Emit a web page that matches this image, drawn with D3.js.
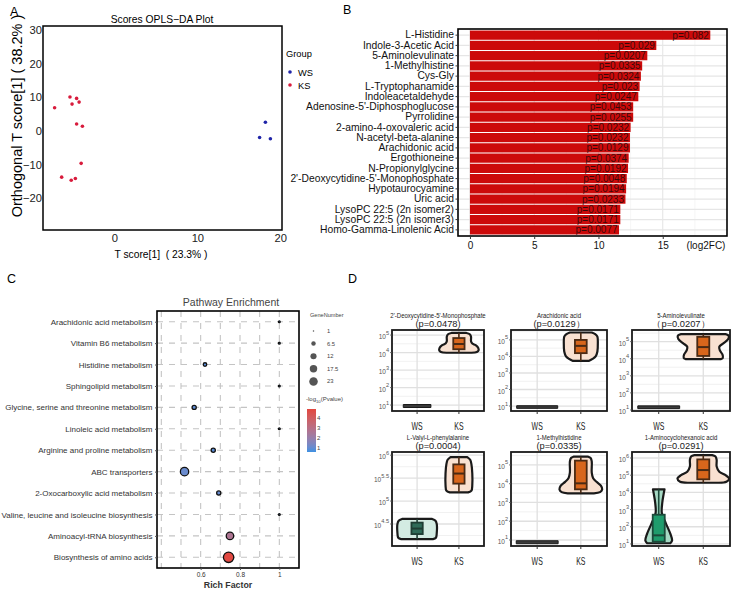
<!DOCTYPE html>
<html lang="en">
<head>
<meta charset="utf-8">
<title>Metabolomics figure</title>
<script src="https://d3js.org/d3.v7.min.js"></script>
<style>
  body { margin: 0; background: #fff; }
  svg text { font-family: "Liberation Sans", Arial, sans-serif; }
</style>
</head>
<body>
<script>
// ---------------- data ----------------
// A: OPLS-DA scores  [T score, orthogonal T score]
var ksScores = [[-7.2,6.9],[-5.35,10.1],[-4.55,9.7],[-5.1,8.0],[-4.25,8.6],[-4.55,2.1],
                [-3.85,1.4],[-4.0,-9.6],[-6.35,-13.7],[-5.2,-14.6],[-4.7,-14.1]];
var wsScores = [[18.2,2.6],[17.5,-1.9],[18.8,-2.3]];
var scoreXTicks = [0, 10, 20];
var scoreYTicks = [-20, -10, 0, 10, 20, 30];

// B: fold change bars
var metabolites = ["L-Histidine","Indole-3-Acetic Acid","5-Aminolevulinate","1-Methylhistine","Cys-Gly",
  "L-Tryptophanamide","Indoleacetaldehyde","Adenosine-5'-Diphosphoglucose","Pyrrolidine",
  "2-amino-4-oxovaleric acid","N-acetyl-beta-alanine","Arachidonic acid","Ergothioneine",
  "N-Propionylglycine","2'-Deoxycytidine-5'-Monophosphate","Hypotaurocyamine","Uric acid",
  "LysoPC 22:5 (2n isomer2)","LysoPC 22:5 (2n isomer3)","Homo-Gamma-Linolenic Acid"];
var log2FC = [18.7,14.5,13.8,13.4,13.3,13.2,13.1,12.7,12.7,12.5,12.45,12.45,12.35,12.3,12.2,12.15,12.1,11.7,11.7,11.6];
var pLabels = ["p=0.082","p=0.029","p=0.0207","p=0.0335","p=0.0324","p=0.023","p=0.0247","p=0.0453",
  "p=0.0255","p=0.0232","p=0.0232","p=0.0129","p=0.0374","p=0.0192","p=0.0048","p=0.0194",
  "p=0.0233","p=0.0171","p=0.0171","p=0.0077"];
var fcTicks = [0, 5, 10, 15];

// C: pathway enrichment
var pathways = ["Arachidonic acid metabolism","Vitamin B6 metabolism","Histidine metabolism",
  "Sphingolipid metabolism","Glycine, serine and threonine metabolism","Linoleic acid metabolism",
  "Arginine and proline metabolism","ABC transporters","2-Oxocarboxylic acid metabolism",
  "Valine, leucine and isoleucine biosynthesis","Aminoacyl-tRNA biosynthesis","Biosynthesis of amino acids"];
var richFactor = [1, 1, 0.622, 1, 0.567, 1, 0.664, 0.518, 0.692, 1, 0.749, 0.742];
var geneNumber = [1, 1, 3, 1, 4, 1, 4, 15, 4, 1, 12, 23];
var negLogP = [0.6, 0.6, 0.8, 0.6, 0.9, 0.6, 0.85, 1.05, 1.0, 0.7, 2.6, 4.8];
var geneLegend = [1, 6.5, 12, 17.5, 23];
var pLegend = [1, 2, 3, 4];
var richTicks = [0.6, 0.8, 1];

// D: violin / box plots (values are log10 intensity)
var groups = ["WS", "KS"];
var dNames = ["2'-Deoxycytidine-5'-Monophosphate","Arachidonic acid","5-Aminolevulinate",
  "L-Valyl-L-phenylalanine","1-Methylhistidine","1-Aminocyclohexanoic acid"];
var dPvals = ["(p=0.0478)","(p=0.0129\uff09","\uff08p=0.0207\uff09","(p=0.0004)","(p=0.0335)","(p=0.0291)"];
var dTicks = [[1,2,3,4,5],[1,2,3,4,5],[1,2,3,4,5],[4.5,5,5.5,6],[1,2,3,4,5],[1,2,3,4,5,6]];
var dLimits = [[0.66,5.29],[0.7,5.6],[0.94,5.68],[4.02,6.07],[0.68,5.69],[0.88,6.35]];
// box stats [min, q1, median, q3, max]
var wsBox = [[0.9,0.92,0.95,0.98,1.0],[0.9,0.92,0.94,0.97,0.99],[1.1,1.13,1.16,1.19,1.22],
             [4.17,4.28,4.4,4.53,4.61],[0.84,0.86,0.88,0.91,0.93],[1.04,1.13,1.5,2.7,4.18]];
var ksBox = [[3.99,4.19,4.49,4.83,5.12],[3.73,4.2,4.64,5.0,5.45],[3.98,4.16,4.68,5.28,5.44],
             [5.19,5.38,5.6,5.8,5.96],[3.49,3.7,4.02,5.23,5.44],[4.56,4.76,5.3,5.92,6.17]];
// violin outlines [value, half width]
var wsViolins = [
  [[0.86,0.33],[1.03,0.33]],
  [[0.86,0.47],[1.02,0.47]],
  [[1.08,0.47],[1.24,0.47]],
  [[4.17,0.38],[4.2,0.45],[4.3,0.47],[4.5,0.47],[4.57,0.44],[4.61,0.36]],
  [[0.8,0.48],[0.96,0.48]],
  [[1.04,0.26],[1.2,0.3],[1.6,0.26],[2.2,0.16],[2.8,0.07],[3.4,0.08],[3.9,0.11],[4.18,0.13]]
];
var ksViolins = [
  [[3.99,0.3],[4.03,0.43],[4.12,0.47],[4.28,0.46],[4.42,0.4],[4.52,0.32],[4.65,0.29],[4.9,0.29],[5.05,0.26],[5.12,0.18]],
  [[3.73,0.18],[3.85,0.27],[4.0,0.34],[4.3,0.38],[4.8,0.39],[5.2,0.38],[5.35,0.33],[5.45,0.25]],
  [[3.98,0.4],[4.05,0.44],[4.25,0.43],[4.5,0.37],[4.7,0.36],[4.9,0.45],[5.15,0.56],[5.35,0.57],[5.44,0.5]],
  [[5.19,0.22],[5.23,0.3],[5.35,0.32],[5.6,0.32],[5.8,0.3],[5.9,0.27],[5.96,0.2]],
  [[3.49,0.3],[3.55,0.44],[3.7,0.49],[3.9,0.46],[4.1,0.36],[4.3,0.28],[4.6,0.25],[5.2,0.25],[5.38,0.22],[5.44,0.17]],
  [[4.56,0.35],[4.62,0.52],[4.8,0.58],[5.0,0.5],[5.2,0.36],[5.5,0.3],[5.9,0.3],[6.1,0.27],[6.17,0.2]]
];

// ---------------- drawing ----------------
var svg = d3.select("body").append("svg").attr("width", 737).attr("height", 598);

// panel letters
[["A",10,16],["B",343,14],["C",7,283],["D",348,283]].forEach(function(l) {
  svg.append("text").text(l[0]).attr("x", l[1]).attr("y", l[2]).attr("font-size", 12.5);
});

// ===== Panel A =====
var ax = d3.scaleLinear().domain([-8.6, 20.2]).range([43, 282]);
var ay = d3.scaleLinear().domain([-29.4, 31.2]).range([230, 26]);
var gA = svg.append("g");

var axA = gA.append("g").attr("transform", "translate(0,230)")
  .call(d3.axisBottom(ax).tickValues(scoreXTicks).tickSize(0).tickPadding(4));
var ayA = gA.append("g").attr("transform", "translate(43,0)")
  .call(d3.axisLeft(ay).tickValues(scoreYTicks).tickSize(0).tickPadding(1));
[axA, ayA].forEach(function(a) {
  a.select(".domain").remove();
  a.selectAll("text").attr("font-size", 11.2).attr("fill", "#222").style("font-family", "'Liberation Sans', Arial");
});

gA.append("rect").attr("x", 43).attr("y", 26).attr("width", 239).attr("height", 204)
  .attr("fill", "none").attr("stroke", "#000").attr("stroke-width", 1.5);

gA.selectAll(".ks").data(ksScores).enter().append("circle")
  .attr("cx", function(d) { return ax(d[0]); })
  .attr("cy", function(d) { return ay(d[1]); })
  .attr("r", 1.8).attr("fill", "#d81b3c");
gA.selectAll(".ws").data(wsScores).enter().append("circle")
  .attr("cx", function(d) { return ax(d[0]); })
  .attr("cy", function(d) { return ay(d[1]); })
  .attr("r", 1.8).attr("fill", "#1f24a8");

gA.append("text").text("Scores OPLS\u2212DA Plot").attr("x", 162).attr("y", 23)
  .attr("text-anchor", "middle").attr("font-size", 10.3);
gA.append("text").text("T score[1]  ( 23.3% )").attr("x", 161).attr("y", 258)
  .attr("text-anchor", "middle").attr("font-size", 10.3).style("white-space", "pre");
gA.append("text").text("Orthogonal T score[1] ( 38.2% )")
  .attr("transform", "translate(22,116) rotate(-90)")
  .attr("text-anchor", "middle").attr("font-size", 14.5);

gA.append("text").text("Group").attr("x", 286).attr("y", 57).attr("font-size", 9.3);
[["WS", "#1f24a8", 72], ["KS", "#d81b3c", 85]].forEach(function(k) {
  gA.append("circle").attr("cx", 290).attr("cy", k[2]).attr("r", 1.8).attr("fill", k[1]);
  gA.append("text").text(k[0]).attr("x", 298).attr("y", k[2] + 3.5).attr("font-size", 9.3);
});

// ===== Panel B =====
var bx = d3.scaleLinear().domain([-0.93, 20]).range([458, 727]);
var by = d3.scaleBand().domain(metabolites).range([29, 236]).paddingInner(0.1).paddingOuter(0.15);
var gB = svg.append("g");

var fcMinor = fcTicks.map(function(t) { return t + 2.5; });
gB.selectAll(".minor").data(fcMinor).enter().append("line")
  .attr("x1", function(d) { return bx(d); }).attr("x2", function(d) { return bx(d); })
  .attr("y1", 29).attr("y2", 236).attr("stroke", "#f0f0f0").attr("stroke-width", 0.6);
gB.selectAll(".major").data(fcTicks).enter().append("line")
  .attr("x1", function(d) { return bx(d); }).attr("x2", function(d) { return bx(d); })
  .attr("y1", 29).attr("y2", 236).attr("stroke", "#e6e6e6").attr("stroke-width", 1.1);
gB.selectAll(".hgrid").data(metabolites).enter().append("line")
  .attr("x1", 458).attr("x2", 727)
  .attr("y1", function(d) { return by(d) + by.bandwidth() / 2; })
  .attr("y2", function(d) { return by(d) + by.bandwidth() / 2; })
  .attr("stroke", "#e6e6e6").attr("stroke-width", 1.1);

gB.selectAll(".bar").data(metabolites).enter().append("rect")
  .attr("x", bx(0)).attr("y", function(d) { return by(d); })
  .attr("width", function(d, i) { return bx(log2FC[i]) - bx(0); })
  .attr("height", by.bandwidth()).attr("fill", "#cc0a0a");

gB.selectAll(".plab").data(metabolites).enter().append("text")
  .attr("x", function(d, i) { return bx(log2FC[i]) - 1.5; })
  .attr("y", function(d) { return by(d) + by.bandwidth() / 2 + 3.5; })
  .attr("text-anchor", "end").attr("font-size", 10).attr("fill", "#1a0a0a").attr("fill-opacity", 0.85)
  .text(function(d, i) { return pLabels[i]; });

gB.append("rect").attr("x", 458).attr("y", 29).attr("width", 269).attr("height", 207)
  .attr("fill", "none").attr("stroke", "#000").attr("stroke-width", 1.6);

var byAxis = gB.append("g").attr("transform", "translate(458,0)")
  .call(d3.axisLeft(by).tickSize(2.5).tickPadding(1.5));
var bxAxis = gB.append("g").attr("transform", "translate(0,236)")
  .call(d3.axisBottom(bx).tickValues(fcTicks).tickSize(3).tickPadding(3));
[byAxis, bxAxis].forEach(function(a) {
  a.select(".domain").remove();
  a.selectAll("line").attr("stroke", "#333");
  a.selectAll("text").attr("fill", "#111").style("font-family", "'Liberation Sans', Arial");
});
byAxis.selectAll("text").attr("font-size", 10.3);
bxAxis.selectAll("text").attr("font-size", 10);
gB.append("text").text("(log2FC)").attr("x", 706).attr("y", 249)
  .attr("text-anchor", "middle").attr("font-size", 10).attr("fill", "#111");

// ===== Panel C =====
var cx = d3.scaleLinear().domain([0.378, 1.1]).range([157, 299]);
var cy = d3.scalePoint().domain(pathways).range([311, 568]).padding(0.5);
var rArea = function(n) {
  var r0 = 0.9, r1 = 5.2;
  return Math.sqrt(r0 * r0 + (n - 1) / 22 * (r1 * r1 - r0 * r0));
};
var colorP = d3.scaleLinear().domain([0.55, 4.85]).range(["#3d91e2", "#e2473f"]).interpolate(d3.interpolateLab);
var gC = svg.append("g");

var richGrid = d3.range(0.4, 1.05, 0.1);
gC.selectAll(".vg").data(richGrid).enter().append("line")
  .attr("x1", function(d) { return cx(d); }).attr("x2", function(d) { return cx(d); })
  .attr("y1", 311).attr("y2", 568)
  .attr("stroke", "#c4c4c4").attr("stroke-width", 1.1).attr("stroke-dasharray", "6,6");
gC.selectAll(".hg").data(pathways).enter().append("line")
  .attr("x1", 157).attr("x2", 299)
  .attr("y1", function(d) { return cy(d); }).attr("y2", function(d) { return cy(d); })
  .attr("stroke", "#c4c4c4").attr("stroke-width", 1.1).attr("stroke-dasharray", "6,6");

gC.selectAll(".pt").data(pathways).enter().append("circle")
  .attr("cx", function(d, i) { return cx(richFactor[i]); })
  .attr("cy", function(d) { return cy(d); })
  .attr("r", function(d, i) { return rArea(geneNumber[i]); })
  .attr("fill", function(d, i) { return colorP(negLogP[i]); })
  .attr("stroke", "#111").attr("stroke-width", 1.3);

gC.append("rect").attr("x", 157).attr("y", 311).attr("width", 142).attr("height", 257)
  .attr("fill", "none").attr("stroke", "#000").attr("stroke-width", 1.6);

var cyAxis = gC.append("g").attr("transform", "translate(157,0)")
  .call(d3.axisLeft(cy).tickSize(2).tickPadding(2.5));
var cxAxis = gC.append("g").attr("transform", "translate(0,568)")
  .call(d3.axisBottom(cx).tickValues(richTicks).tickSize(2).tickPadding(2)
    .tickFormat(function(d) { return d === 1 ? "1" : d.toFixed(1); }));
[cyAxis, cxAxis].forEach(function(a) {
  a.select(".domain").remove();
  a.selectAll("line").attr("stroke", "#555");
  a.selectAll("text").attr("fill", "#333").style("font-family", "'Liberation Sans', Arial");
});
cyAxis.selectAll("text").attr("font-size", 8);
cxAxis.selectAll("text").attr("font-size", 6.5);

gC.append("text").text("Pathway Enrichment").attr("x", 231).attr("y", 306)
  .attr("text-anchor", "middle").attr("font-size", 10.5).attr("fill", "#444");
gC.append("text").text("Rich Factor").attr("x", 228).attr("y", 588)
  .attr("text-anchor", "middle").attr("font-size", 8.8).attr("font-weight", "bold").attr("fill", "#333");

// size legend
gC.append("text").text("GeneNumber").attr("x", 310).attr("y", 317).attr("font-size", 5.6).attr("fill", "#444");
geneLegend.forEach(function(n, i) {
  var yy = 331 + i * 12.6;
  gC.append("circle").attr("cx", 313.5).attr("cy", yy).attr("r", rArea(n) * 0.82).attr("fill", "#555");
  gC.append("text").text(n).attr("x", 327).attr("y", yy + 2).attr("font-size", 5.8).attr("fill", "#444");
});
// colour legend
var pt = gC.append("text").attr("x", 306).attr("y", 401).attr("font-size", 6).attr("fill", "#444");
pt.append("tspan").text("-log");
pt.append("tspan").text("10").attr("font-size", 4.2).attr("dy", 1.8);
pt.append("tspan").text("(Pvalue)").attr("dy", -1.8);

var grad = svg.append("defs").append("linearGradient").attr("id", "pgrad")
  .attr("x1", 0).attr("y1", 1).attr("x2", 0).attr("y2", 0);
d3.range(0, 1.01, 0.1).forEach(function(t) {
  grad.append("stop").attr("offset", t).attr("stop-color", colorP(0.55 + t * 4.3));
});
var pLy = d3.scaleLinear().domain([0.55, 4.85]).range([452, 409]);
gC.append("rect").attr("x", 307).attr("y", 409).attr("width", 9).attr("height", 43).attr("fill", "url(#pgrad)");
pLegend.forEach(function(v) {
  gC.append("text").text(v).attr("x", 317).attr("y", pLy(v) + 2).attr("font-size", 6).attr("fill", "#444");
});

// ===== Panel D =====
var dCols = [[392, 484], [511, 607], [632, 730]];
var dRows = [[330, 411], [452, 546]];
var wsViolinFill = ["#3a3a3a", "#3a3a3a", "#3a3a3a", "#d3ebe2", "#3a3a3a", "#a6d9c4"];
var wsBoxFill = ["#3a3a3a", "#3a3a3a", "#3a3a3a", "#2f6b58", "#3a3a3a", "#1f9c6c"];
var wsBoxStroke = ["#222", "#222", "#222", "#1e3d33", "#222", "#1b4a3a"];

dNames.forEach(function(name, i) {
  var c = dCols[i % 3], r = dRows[Math.floor(i / 3)];
  var x = d3.scalePoint().domain(groups).range(c).padding(0.6);
  var step = x.step();
  var y = d3.scaleLinear().domain(dLimits[i]).range([r[1], r[0]]);
  var g = svg.append("g");
  var ticks = dTicks[i];
  var half = (ticks[1] - ticks[0]) / 2;
  var minors = d3.range(ticks[0] - half, dLimits[i][1], half * 2)
    .filter(function(t) { return t > dLimits[i][0] && t < dLimits[i][1]; });

  g.selectAll(".mn").data(minors).enter().append("line")
    .attr("x1", c[0]).attr("x2", c[1])
    .attr("y1", function(d) { return y(d); }).attr("y2", function(d) { return y(d); })
    .attr("stroke", "#efefef").attr("stroke-width", 0.9);
  g.selectAll(".mj").data(ticks.filter(function(t) { return t <= dLimits[i][1]; })).enter().append("line")
    .attr("x1", c[0]).attr("x2", c[1])
    .attr("y1", function(d) { return y(d); }).attr("y2", function(d) { return y(d); })
    .attr("stroke", "#e0e0e0").attr("stroke-width", 1.3);
  g.selectAll(".vx").data(groups).enter().append("line")
    .attr("x1", function(d) { return x(d); }).attr("x2", function(d) { return x(d); })
    .attr("y1", r[0]).attr("y2", r[1])
    .attr("stroke", "#e0e0e0").attr("stroke-width", 1.3);

  function drawGroup(grp, violin, box, vFill, bFill, bStroke) {
    var gx = x(grp);
    var area = d3.area().curve(d3.curveCatmullRom)
      .y(function(p) { return y(p[0]); })
      .x0(function(p) { return gx - p[1] * step; })
      .x1(function(p) { return gx + p[1] * step; });
    var thin = violin.length === 2;
    g.append("path").attr("d", area(violin))
      .attr("fill", vFill).attr("stroke", "#1a1a1a").attr("stroke-width", thin ? 1 : 2.2)
      .attr("stroke-linejoin", "round");
    if (thin) return;
    var bw = step * 0.27;
    g.append("line").attr("x1", gx).attr("x2", gx).attr("y1", y(box[0])).attr("y2", y(box[4]))
      .attr("stroke", bStroke).attr("stroke-width", 1.6);
    g.append("rect").attr("x", gx - bw / 2).attr("width", bw)
      .attr("y", y(box[3])).attr("height", y(box[1]) - y(box[3]))
      .attr("fill", bFill).attr("stroke", bStroke).attr("stroke-width", 1.8);
    g.append("line").attr("x1", gx - bw / 2).attr("x2", gx + bw / 2)
      .attr("y1", y(box[2])).attr("y2", y(box[2]))
      .attr("stroke", bStroke).attr("stroke-width", 2);
  }
  drawGroup("WS", wsViolins[i], wsBox[i], wsViolinFill[i], wsBoxFill[i], wsBoxStroke[i]);
  drawGroup("KS", ksViolins[i], ksBox[i], "#f9e1d1", "#d8661c", "#4a2a14");

  g.append("rect").attr("x", c[0]).attr("y", r[0]).attr("width", c[1] - c[0]).attr("height", r[1] - r[0])
    .attr("fill", "none").attr("stroke", "#1a1a1a").attr("stroke-width", 1.8);

  // x axis
  groups.forEach(function(grp) {
    g.append("line").attr("x1", x(grp)).attr("x2", x(grp)).attr("y1", r[1]).attr("y2", r[1] + 3)
      .attr("stroke", "#333").attr("stroke-width", 1);
    g.append("text").text(grp).attr("x", x(grp)).attr("y", r[1] + 19.5)
      .attr("text-anchor", "middle").attr("font-size", 10.5).attr("fill", "#222")
      .attr("transform", "translate(" + x(grp) + ",0) scale(0.66,1) translate(" + (-x(grp)) + ",0)");
  });
  // y axis with 10^n labels
  ticks.forEach(function(t) {
    if (t > dLimits[i][1]) return;
    g.append("line").attr("x1", c[0] - 2).attr("x2", c[0]).attr("y1", y(t)).attr("y2", y(t))
      .attr("stroke", "#555").attr("stroke-width", 0.8);
    var tx = g.append("text").attr("x", c[0] - 3).attr("y", y(t) + 4)
      .attr("text-anchor", "end").attr("font-size", 6.5).attr("fill", "#555");
    tx.append("tspan").text("10");
    tx.append("tspan").text(t).attr("font-size", 5.6).attr("dy", -4.5);
  });

  // titles
  var mid = (c[0] + c[1]) / 2;
  var tt = g.append("text").text(name).attr("x", mid).attr("y", r[0] - 12.5)
    .attr("text-anchor", "middle").attr("font-size", 7.5).attr("fill", "#222");
  var w = tt.node().getComputedTextLength();
  tt.attr("textLength", w * 0.8).attr("lengthAdjust", "spacingAndGlyphs");
  g.append("text").text(dPvals[i]).attr("x", mid).attr("y", r[0] - 3)
    .attr("text-anchor", "middle").attr("font-size", 9.3).attr("fill", "#222");
});
</script>
</body>
</html>
